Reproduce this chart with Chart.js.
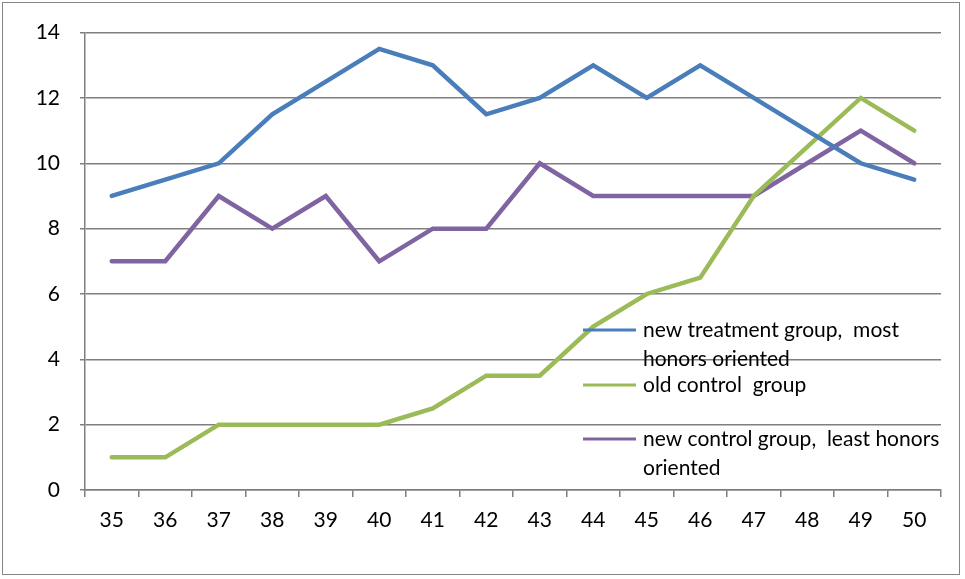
<!DOCTYPE html>
<html lang="en">
<head>
    <meta charset="UTF-8">
    <title>Groups by age</title>
    <script src="https://cdn.jsdelivr.net/npm/chart.js"></script>
    <style>
        html, body { margin: 0; padding: 0; background: #fff; }
        #wrap { position: absolute; left: 0; top: 0; width: 965px; height: 579px; }
        #frame { position: absolute; left: 2px; top: 2px; width: 958px; height: 573px; border: 1.5px solid #868686; box-sizing: border-box; pointer-events: none; }
    </style>
</head>
<body>
    <div id="wrap">
        <canvas id="myChart" width="965" height="579"></canvas>
        <div id="frame"></div>
    </div>

    <script>
        const ages = ['35', '36', '37', '38', '39', '40', '41', '42', '43', '44', '45', '46', '47', '48', '49', '50'];
        const newTreatment = [9, 9.5, 10, 11.5, 12.5, 13.5, 13, 11.5, 12, 13, 12, 13, 12, 11, 10, 9.5];
        const oldControl = [1, 1, 2, 2, 2, 2, 2.5, 3.5, 3.5, 5, 6, 6.5, 9, 10.5, 12, 11];
        const newControl = [7, 7, 9, 8, 9, 7, 8, 8, 10, 9, 9, 9, 9, 10, 11, 10];

        const seriesNames = [
            ['new treatment group,  most', 'honors oriented'],
            ['old control  group'],
            ['new control group,  least honors', 'oriented']
        ];
        const colors = ['#4A7EBB', '#9BBB59', '#8064A2'];
        const fontFamily = 'Lato, "Open Sans", sans-serif';

        // legend drawn inside the plot, on top of the lines
        const insideLegend = {
            id: 'insideLegend',
            afterDatasetsDraw(chart) {
                const ctx = chart.ctx;
                const rows = [330, 385, 439];
                ctx.save();
                ctx.font = '21px ' + fontFamily;
                ctx.fillStyle = '#000';
                ctx.textBaseline = 'middle';
                chart.data.datasets.forEach((ds, i) => {
                    const y = rows[i];
                    ctx.strokeStyle = ds.borderColor;
                    ctx.lineWidth = 3;
                    ctx.beginPath();
                    ctx.moveTo(583, y);
                    ctx.lineTo(636, y);
                    ctx.stroke();
                    seriesNames[i].forEach((line, j) => {
                        ctx.fillText(line, 643, y + j * 29);
                    });
                });
                ctx.restore();
            }
        };

        const ctx = document.getElementById('myChart').getContext('2d');
        new Chart(ctx, {
            type: 'line',
            data: {
                labels: ages,
                datasets: [newTreatment, oldControl, newControl].map((vals, i) => ({
                    label: seriesNames[i].join(' '),
                    data: vals,
                    borderColor: colors[i],
                    backgroundColor: colors[i],
                    borderWidth: 4.5,
                    pointRadius: 0,
                    tension: 0,
                    borderCapStyle: 'round',
                    borderJoinStyle: 'miter'
                }))
            },
            options: {
                responsive: false,
                animation: false,
                layout: { padding: { left: 0, top: 31, right: 24, bottom: 0 } },
                plugins: {
                    legend: { display: false },
                    tooltip: { enabled: false }
                },
                scales: {
                    x: {
                        offset: true,
                        grid: {
                            offset: true,
                            drawOnChartArea: false,
                            drawTicks: true,
                            tickLength: 7,
                            color: '#7f7f7f',
                            lineWidth: 1.5
                        },
                        border: { color: '#7f7f7f', width: 1.5 },
                        ticks: {
                            color: '#000',
                            padding: 11,
                            maxRotation: 0,
                            font: { family: fontFamily, size: 21 }
                        },
                        afterFit(scale) { scale.height = 89; }
                    },
                    y: {
                        min: 0,
                        max: 14,
                        ticks: {
                            stepSize: 2,
                            color: '#000',
                            padding: 20,
                            font: { family: fontFamily, size: 21 }
                        },
                        grid: {
                            color: '#7f7f7f',
                            lineWidth: 1.5,
                            tickLength: 5
                        },
                        border: { color: '#7f7f7f', width: 1.5 },
                        afterFit(scale) { scale.width = 85; }
                    }
                }
            },
            plugins: [insideLegend]
        });
    </script>
</body>
</html>
